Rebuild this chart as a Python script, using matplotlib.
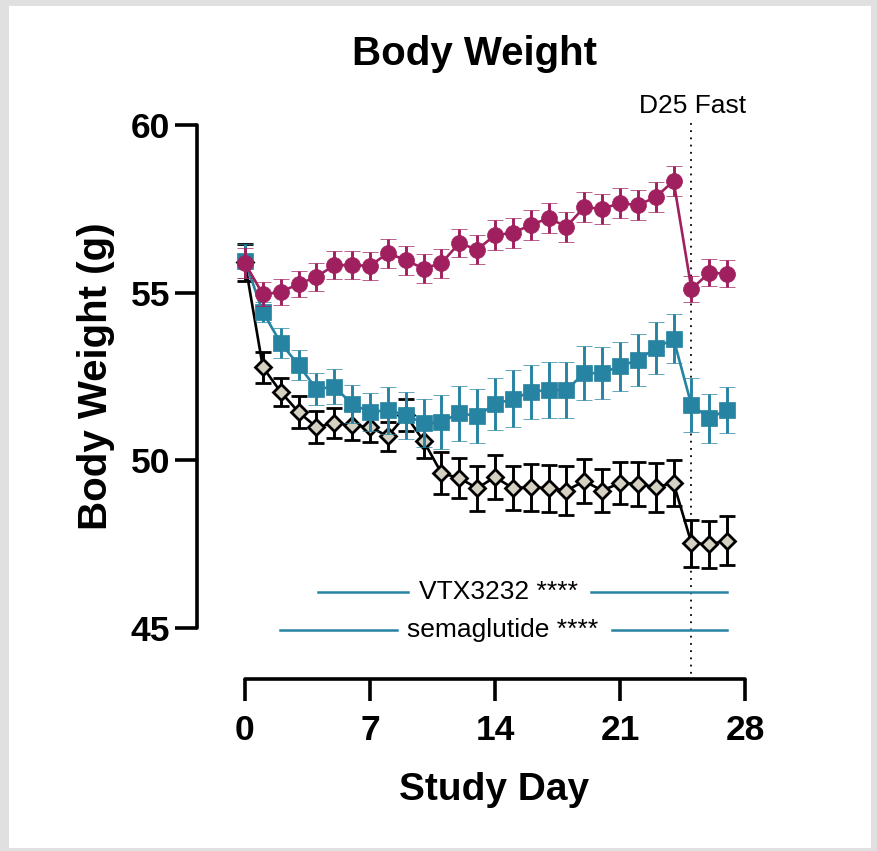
import matplotlib
matplotlib.use("Agg")
import matplotlib.pyplot as plt
from matplotlib.patches import Rectangle

plt.rcParams["font.family"] = ["Liberation Sans", "DejaVu Sans"]

days = list(range(0, 28))

# magenta circles
vehicle = [55.88, 54.95, 55.02, 55.26, 55.47, 55.82, 55.82, 55.80, 56.18, 55.97,
           55.72, 55.88, 56.48, 56.28, 56.72, 56.78, 57.02, 57.22, 56.97, 57.55,
           57.50, 57.67, 57.61, 57.85, 58.33, 55.11, 55.59, 55.57]
vehicle_err = [0.45, 0.36, 0.38, 0.40, 0.42, 0.42, 0.42, 0.42, 0.43, 0.43,
               0.43, 0.43, 0.43, 0.43, 0.45, 0.45, 0.45, 0.45, 0.45, 0.45,
               0.45, 0.45, 0.45, 0.45, 0.46, 0.38, 0.40, 0.40]

# teal squares
vtx = [55.95, 54.42, 53.50, 52.84, 52.13, 52.19, 51.68, 51.44, 51.50, 51.35,
       51.11, 51.14, 51.41, 51.32, 51.68, 51.83, 52.04, 52.10, 52.10, 52.60,
       52.60, 52.81, 52.99, 53.35, 53.62, 51.65, 51.26, 51.50]
vtx_err = [0.50, 0.30, 0.45, 0.45, 0.47, 0.52, 0.56, 0.57, 0.70, 0.70,
           0.72, 0.80, 0.82, 0.80, 0.77, 0.85, 0.81, 0.83, 0.83, 0.80,
           0.78, 0.73, 0.77, 0.77, 0.73, 0.80, 0.73, 0.68]

# grey diamonds
sema = [55.90, 52.78, 52.04, 51.44, 50.99, 51.11, 51.05, 50.99, 50.72, 51.35,
        50.58, 49.62, 49.47, 49.17, 49.50, 49.17, 49.20, 49.17, 49.10, 49.38,
        49.10, 49.32, 49.30, 49.20, 49.32, 47.53, 47.50, 47.60]
sema_err = [0.54, 0.46, 0.43, 0.47, 0.47, 0.45, 0.45, 0.45, 0.43, 0.47,
            0.52, 0.62, 0.60, 0.67, 0.66, 0.66, 0.70, 0.70, 0.72, 0.66,
            0.65, 0.63, 0.66, 0.73, 0.68, 0.70, 0.70, 0.73]

xticks = [0, 7, 14, 21, 28]
yticks = [45, 50, 55, 60]

magenta = "#A01F5E"
teal = "#2683A2"
beige = "#D5D1C2"

fig = plt.figure(figsize=(8.77, 8.51), dpi=100)
fig.patch.set_facecolor("#e0e0e0")
fig.patches.append(Rectangle((9 / 877, 3 / 851), 862 / 877, 842 / 851,
                             transform=fig.transFigure, facecolor="white",
                             edgecolor="none", zorder=-10))

ax = fig.add_axes([245 / 877, 223 / 851, 500 / 877, 503 / 851])
ax.set_facecolor("none")

common = dict(capsize=5.5, elinewidth=2.1, capthick=2.1, lw=1.9, clip_on=False)
eb3 = ax.errorbar(days, sema, yerr=sema_err, fmt="-D", color="black", ms=8.5,
                  mfc=beige, mec="black", mew=2.0, zorder=3, **common)
eb2 = ax.errorbar(days, vtx, yerr=vtx_err, fmt="-s", color=teal, ms=11,
                  mfc=teal, mec=teal, mew=0.5, zorder=4, **common)
eb1 = ax.errorbar(days, vehicle, yerr=vehicle_err, fmt="-o", color=magenta, ms=11.5,
                  mfc=magenta, mec=magenta, mew=0.5, zorder=5, **common)
for eb in (eb1, eb2, eb3):
    for art in eb.get_children():
        art.set_clip_on(False)

ax.set_xlim(0, 28)
ax.set_ylim(45, 60)
ax.set_xticks(xticks)
ax.set_yticks(yticks)
for s in ["top", "right"]:
    ax.spines[s].set_visible(False)
ax.spines["left"].set_position(("outward", 34.5))
ax.spines["bottom"].set_position(("outward", 36.7))
for s in ["left", "bottom"]:
    ax.spines[s].set_linewidth(2.6)
    ax.spines[s].set_capstyle("round")
ax.tick_params(axis="both", length=15.5, width=2.6, labelsize=25.5)
ax.tick_params(axis="y", pad=4)
ax.tick_params(axis="x", pad=10)
for lab in ax.get_xticklabels() + ax.get_yticklabels():
    lab.set_fontweight("bold")

# fasting marker
fast_day = 25
ax.plot([fast_day, fast_day], [60.05, 45 - 51 / 33.53], color="black",
        lw=1.3, ls=(0, (1, 3.0)), clip_on=False, zorder=1)
ax.text(fast_day + 0.08, 60.36, "D25 Fast", fontsize=19, ha="center", va="baseline")

# significance bars
sig_rows = [
    ("VTX3232 ****", 46.07, 4.1, 9.15, 19.35, 27.0, 14.2),
    ("semaglutide ****", 44.93, 1.96, 8.53, 20.55, 27.0, 14.45),
]
for label, yy, a0, a1, b0, b1, xc in sig_rows:
    ax.plot([a0, a1], [yy, yy], color=teal, lw=1.8, clip_on=False)
    ax.plot([b0, b1], [yy, yy], color=teal, lw=1.8, clip_on=False)
    ax.text(xc, yy, label, fontsize=19, ha="center", va="center")

fig.text(475 / 877, 1 - 65 / 851, "Body Weight", fontsize=29, fontweight="bold",
         ha="center", va="baseline")
fig.text(96.5 / 877, 1 - 376 / 851, "Body Weight (g)", fontsize=29, fontweight="bold",
         ha="center", va="center", rotation=90)
fig.text(494 / 877, 1 - 800 / 851, "Study Day", fontsize=28, fontweight="bold",
         ha="center", va="baseline")

plt.savefig("out.png", dpi=100)
